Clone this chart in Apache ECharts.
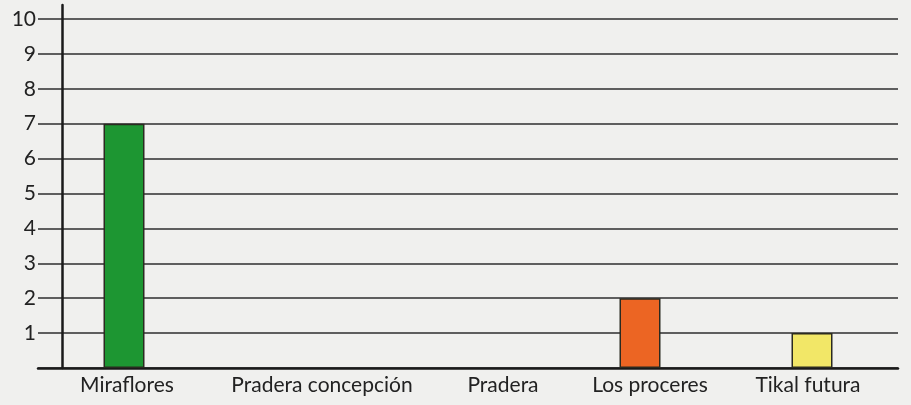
<!DOCTYPE html>
<html>
<head>
<meta charset="utf-8">
<script src="https://cdn.jsdelivr.net/npm/echarts@6/dist/echarts.min.js"></script>
<style>
  html, body { margin: 0; padding: 0; background: #f0f0ee; }
  #chart { width: 911px; height: 405px; }
</style>
</head>
<body>
<div id="chart"></div>
<script>
// Barrios and their counts
const categories = ['Miraflores', 'Pradera concepción', 'Pradera', 'Los proceres', 'Tikal futura'];
const values = [7, 0, 0, 2, 1];
const barColors = ['#1d9632', '#1d9632', '#1d9632', '#ec6523', '#f2e767'];
const yTicks = [1, 2, 3, 4, 5, 6, 7, 8, 9, 10];

// horizontal nudge (px) for each category label
const labelNudge = [3, 26, 35, 10, -4];

const chart = echarts.init(document.getElementById('chart'));

chart.setOption({
  backgroundColor: '#f0f0ee',
  animation: false,
  grid: { left: 38, right: 13, top: 5, bottom: 37 },
  xAxis: {
    type: 'category',
    data: categories.map((name, i) => {
      const n = labelNudge[i];
      return {
        value: name,
        textStyle: { padding: n >= 0 ? [0, 0, 0, 2 * n] : [0, -2 * n, 0, 0] }
      };
    }),
    axisLine: { show: true, lineStyle: { color: '#1a1a1a', width: 2.5 } },
    axisTick: { show: false },
    axisLabel: {
      interval: 0,
      color: '#222',
      fontFamily: 'Lato, "Open Sans", sans-serif',
      fontSize: 21,
      margin: 7
    }
  },
  yAxis: {
    type: 'value',
    min: 0,
    max: 10.4,
    interval: 1,
    offset: -24,
    axisLine: { show: true, lineStyle: { color: '#1a1a1a', width: 2.5 } },
    axisTick: { show: false },
    axisLabel: {
      color: '#222',
      fontFamily: 'Lato, "Open Sans", sans-serif',
      fontSize: 21,
      margin: 26,
      showMinLabel: false,
      showMaxLabel: false,
      formatter: v => (yTicks.includes(v) ? String(v) : '')
    },
    splitLine: {
      show: true,
      showMaxLine: false,
      lineStyle: { color: '#2e2e2e', width: 1.7 }
    }
  },
  series: [{
    type: 'bar',
    barWidth: 41,
    data: values.map((v, i) => ({
      value: v,
      itemStyle: {
        color: barColors[i],
        borderColor: '#2a2a20',
        borderWidth: v > 0 ? 1.5 : 0
      }
    }))
  }]
});
</script>
</body>
</html>
